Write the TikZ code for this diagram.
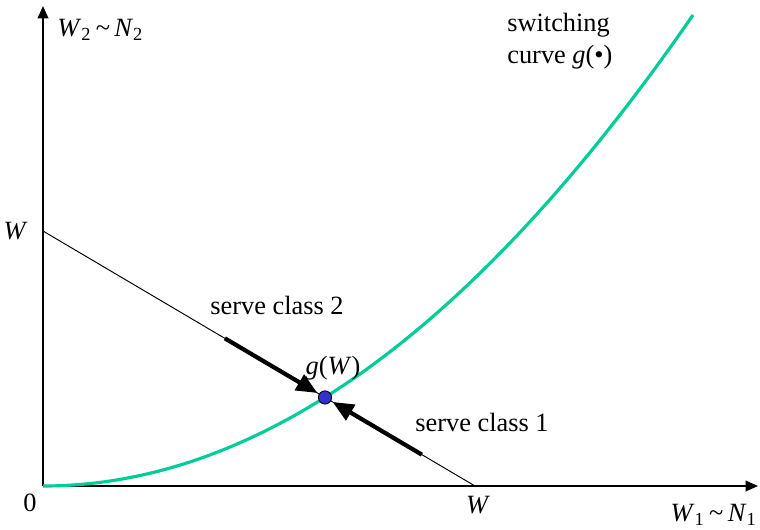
\documentclass[tikz,border=0pt]{standalone}
\usepackage{fontspec}
\setmainfont{Liberation Serif}
\usepackage{tikz}
\usetikzlibrary{arrows.meta,calc}
\definecolor{curvegreen}{HTML}{00CC99}
\definecolor{pointblue}{HTML}{3333CC}

\begin{document}
\begin{tikzpicture}[
  x=0.02cm, y=0.02cm,
  font=\fontsize{15}{18}\selectfont,
  axisLine/.style ={line width=1.1pt, -{Triangle[length=7pt,width=6pt]}},
  budgetLine/.style={line width=0.55pt},
  serveArrow/.style={line width=2.4pt, -{Triangle[length=12pt,width=10pt]}},
  swCurve/.style ={curvegreen, line width=1.8pt},
  opPoint/.style ={circle, draw=black, fill=pointblue, line width=0.5pt, inner sep=0pt, minimum size=7.5pt},
  lbl/.style     ={inner sep=0pt},
]
\useasboundingbox (-43,-43) rectangle (717,486);
% axes, 1 unit = 1 px of the target
\coordinate (O)    at (0,0);
\coordinate (ytip) at (0,480);
\coordinate (xtip) at (715,0);
\coordinate (Wy)   at (0,255);
\coordinate (Wx)   at (432,0);
\coordinate (gEnd) at (650,471);

\draw[axisLine] (O) -- (ytip);
\draw[axisLine] (O) -- (xtip);

% switching curve g(.) -- a parabola through g(W)
\draw[swCurve] (O) .. controls (216.7,0) and (433.3,157) .. (gEnd);

% the line W_1 + W_2 = W
\draw[budgetLine] (Wy) -- (Wx);
\coordinate (s2) at ($(Wy)!0.421!(Wx)$);
\coordinate (s1) at ($(Wy)!0.877!(Wx)$);
\node[opPoint] (gW) at ($(Wy)!0.6528!(Wx)$) {};
\draw[serveArrow, shorten >=1pt] (s2) -- (gW);
\draw[serveArrow, shorten >=1pt] (s1) -- (gW);

% labels
\node[lbl, anchor=west]  (yLbl)  at (14,456) {\textit{W}\textsubscript{2}\,\textasciitilde\,\textit{N}\textsubscript{2}};
\node[lbl, anchor=east]  (xLbl)  at (714,-29) {\textit{W}\textsubscript{1}\,\textasciitilde\,\textit{N}\textsubscript{1}};
\node[lbl]               (zero)  at (-13,-17) {0};
\node[lbl, anchor=east]  (WyLbl) at (-15,255) {\textit{W}};
\node[lbl]               (WxLbl) at (435,-19) {\textit{W}};
\node[lbl, align=left, anchor=west] (swLbl) at (464,445) {switching\\curve \textit{g}(\textbullet)};
\node[lbl]               (c2Lbl) at (234,181) {serve class 2};
\node[lbl]               (c1Lbl) at (439,64)  {serve class 1};
\node[lbl]               (gWLbl) at (290,118) {\textit{g}(\textit{W})};
\end{tikzpicture}
\end{document}
